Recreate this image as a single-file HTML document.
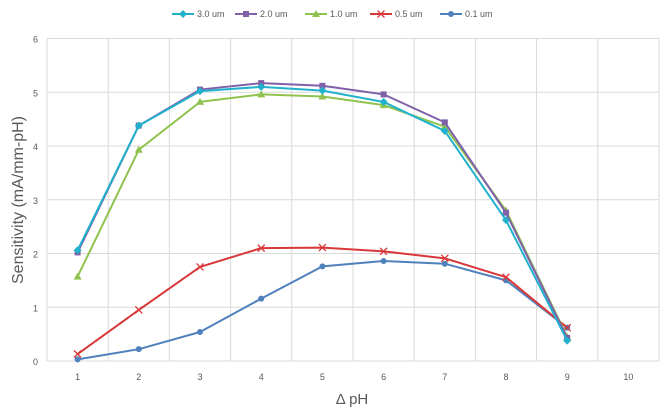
<!DOCTYPE html>
<html><head><meta charset="utf-8"><style>
body{margin:0;background:#fff;}
svg{display:block;font-family:"Liberation Sans",sans-serif;}
</style></head><body>
<svg id="chart" width="672" height="415" viewBox="0 0 672 415">
<g id="grid"></g>
<g id="yticks"></g>
<g id="xticks"></g>
<g id="series"></g>
<g id="legend"></g>
<text transform="translate(23,200) rotate(-90)" text-anchor="middle" font-size="16" fill="#595959">Sensitivity (mA/mm-pH)</text>
<text x="352" y="404" text-anchor="middle" font-size="15" fill="#595959">Δ pH</text>
</svg>
<script>
const categories=[1,2,3,4,5,6,7,8,9,10];
const yTicks=[0,1,2,3,4,5,6];
const seriesNames=["3.0 um","2.0 um","1.0 um","0.5 um","0.1 um"];
const s30=[2.06,4.38,5.02,5.10,5.03,4.82,4.28,2.62,0.38];
const s20=[2.02,4.38,5.05,5.17,5.12,4.96,4.44,2.76,0.43];
const s10=[1.57,3.93,4.82,4.96,4.92,4.76,4.36,2.80,0.45];
const s05=[0.13,0.95,1.75,2.10,2.11,2.04,1.91,1.56,0.62];
const s01=[0.03,0.22,0.54,1.16,1.76,1.86,1.81,1.50,0.62];
const NS="http://www.w3.org/2000/svg";
const L=47,R=659,T=38.5,B=361,yMax=6;
const bw=(R-L)/categories.length;
const x=i=>L+bw*(i+0.5);
const y=v=>B-(v/yMax)*(B-T);
function mk(tag,attrs,parent){const e=document.createElementNS(NS,tag);for(const k in attrs)e.setAttribute(k,attrs[k]);parent.appendChild(e);return e;}
const grid=document.getElementById('grid');
yTicks.forEach(t=>{const l=mk('line',{x1:L,x2:R,y1:y(t),y2:y(t),stroke:'#d9d9d9','stroke-width':1},grid);


const tx=mk('text',{x:38,y:y(t)+4,'text-anchor':'end','font-size':9,fill:'#595959'},document.getElementById('yticks'));tx.textContent=t;

});
for(let i=0;i<=categories.length;i++){const l=mk('line',{x1:L+bw*i,x2:L+bw*i,y1:T,y2:B,stroke:'#d9d9d9','stroke-width':1},grid);

}
categories.forEach((c,i)=>{const tx=mk('text',{x:x(i),y:380,'text-anchor':'middle','font-size':9,fill:'#595959'},document.getElementById('xticks'));tx.textContent=c;

});
const defs=[{d:s01,c:'#4f81bd',m:'circle'},{d:s05,c:'#d9383a',m:'x'},{d:s10,c:'#8fc34e',m:'tri'},{d:s20,c:'#8060a8',m:'sq'},{d:s30,c:'#21b1cc',m:'dia'}];
const names=["0.1 um","0.5 um","1.0 um","2.0 um","3.0 um"];
function marker(m,cx,cy,c,p){
 if(m==='circle')return mk('circle',{cx,cy,r:3,fill:c},p);
 if(m==='sq')return mk('rect',{x:cx-3,y:cy-3,width:6,height:6,fill:c},p);
 if(m==='tri')return mk('polygon',{points:`${cx},${cy-4} ${cx+4},${cy+3} ${cx-4},${cy+3}`,fill:c},p);
 if(m==='dia')return mk('polygon',{points:`${cx},${cy-4} ${cx+4},${cy} ${cx},${cy+4} ${cx-4},${cy}`,fill:c},p);
 return mk('path',{d:`M${cx-3.5} ${cy-3.5}L${cx+3.5} ${cy+3.5}M${cx+3.5} ${cy-3.5}L${cx-3.5} ${cy+3.5}`,stroke:c,'stroke-width':1.3,fill:'none'},p);
}
const sg=document.getElementById('series');
defs.forEach((s,k)=>{
 const g=mk('g',{},sg);
 
 
 const pts=s.d.map((v,i)=>x(i)+','+y(v)).join(' ');
 const pl=mk('polyline',{points:pts,fill:'none',stroke:s.c,'stroke-width':2,'stroke-linejoin':'round'},g);
 
 
 s.d.forEach((v,i)=>{const m=marker(s.m,x(i),y(v),s.c,g);
 
 });
});
const lg=document.getElementById('legend');
const lx=[172,235,305,370,440];
const order=[4,3,2,1,0];
order.forEach((k,j)=>{const s=defs[k];const g=mk('g',{},lg);
 
 
 mk('line',{x1:lx[j],x2:lx[j]+22,y1:14,y2:14,stroke:s.c,'stroke-width':2},g);
 marker(s.m,lx[j]+11,14,s.c,g);
 const t=mk('text',{x:lx[j]+25,y:17,'font-size':9,fill:'#595959'},g);t.textContent=names[k];
});
</script>
</body></html>
